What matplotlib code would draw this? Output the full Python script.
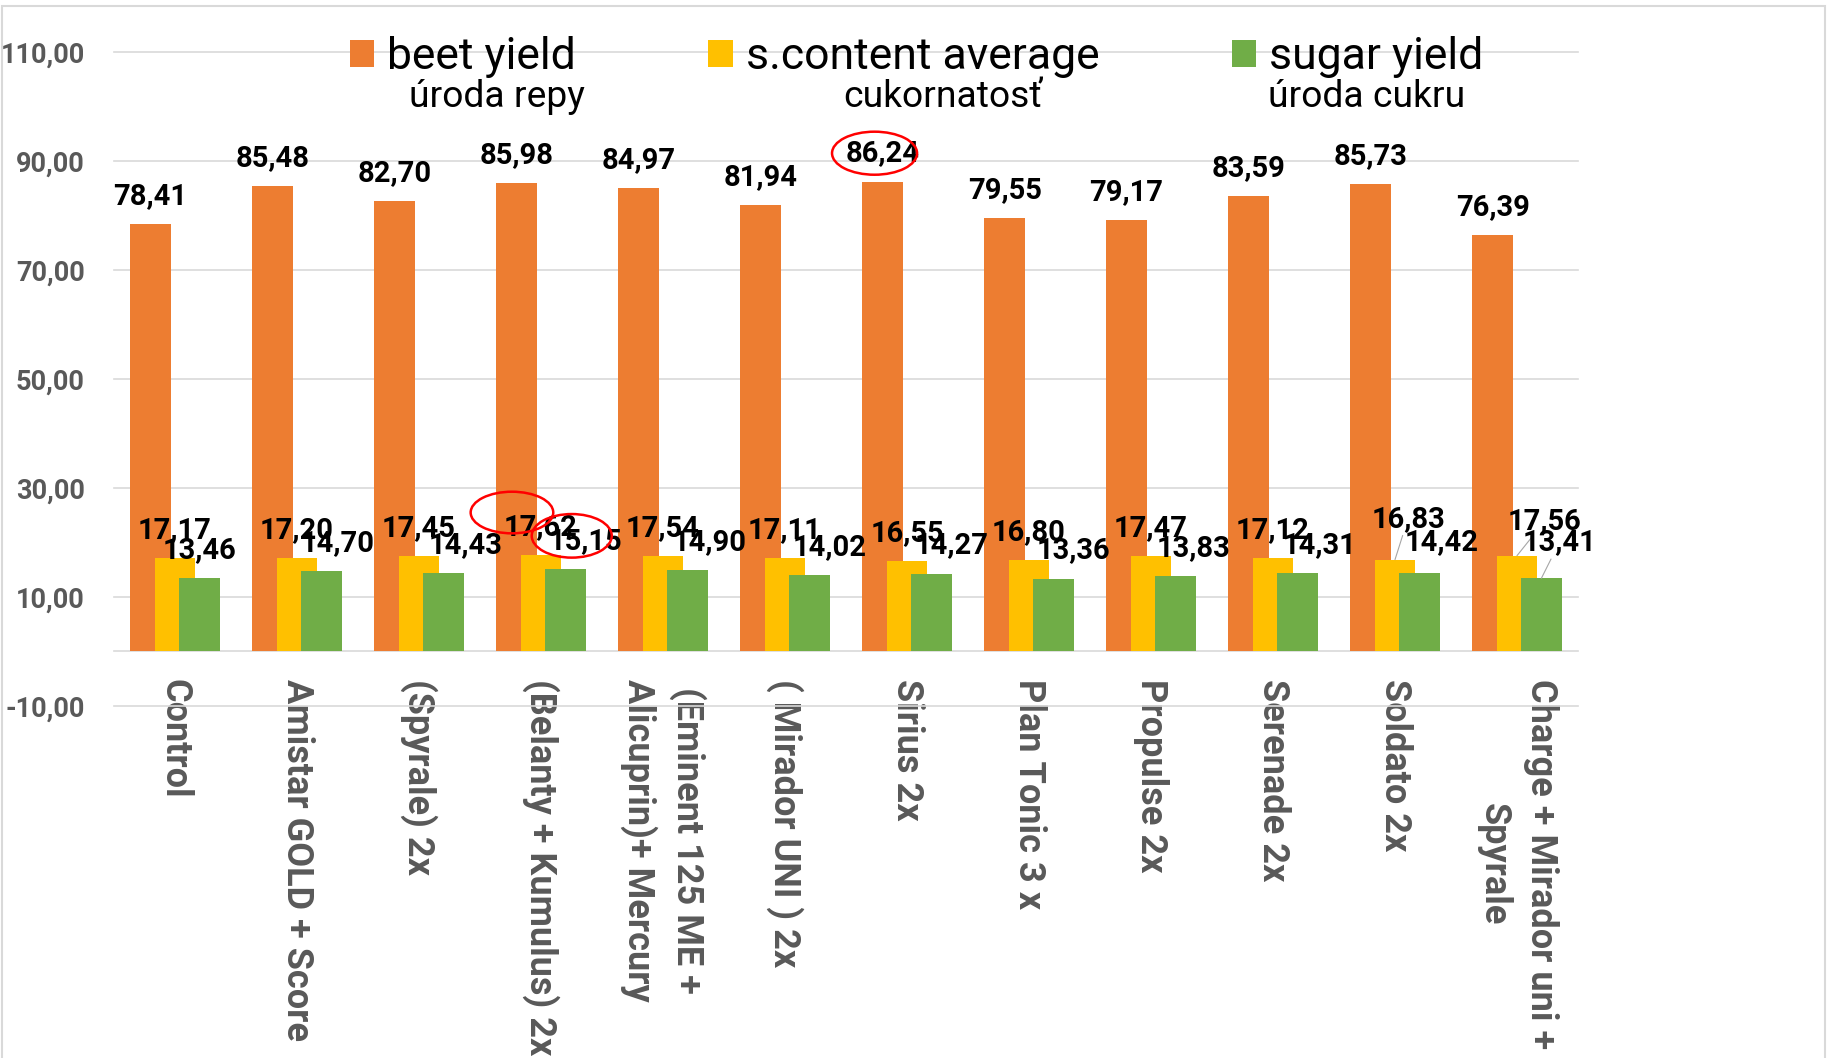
import matplotlib
matplotlib.use("Agg")
import matplotlib.pyplot as plt
from matplotlib.patches import Patch, Ellipse, Rectangle
from matplotlib import font_manager
import numpy as np

# ---------------- data ----------------
categories = ["Control", "Amistar GOLD + Score", "(Spyrale) 2x", "(Belanty + Kumulus) 2x",
              "(Eminent 125 ME +\nAlicuprin)+ Mercury", "( Mirador UNI ) 2x", "Sirius 2x",
              "Plan Tonic 3 x", "Propulse 2x", "Serenade 2x", "Soldato 2x",
              "Charge + Mirador uni +\nSpyrale"]
beet_yield = [78.41, 85.48, 82.70, 85.98, 84.97, 81.94, 86.24, 79.55, 79.17, 83.59, 85.73, 76.39]
sugar_content = [17.17, 17.20, 17.45, 17.62, 17.54, 17.11, 16.55, 16.80, 17.47, 17.12, 16.83, 17.56]
sugar_yield = [13.46, 14.70, 14.43, 15.15, 14.90, 14.02, 14.27, 13.36, 13.83, 14.31, 14.42, 13.41]
series_names = ["beet yield", "s.content average", "sugar yield"]
series_subtitles = ["úroda repy", "cukornatosť", "úroda cukru"]
y_ticks = [-10, 10, 30, 50, 70, 90, 110]

# ---------------- style ----------------
colors = ["#ED7D31", "#FFC000", "#70AD47"]
grid_c = "#D9D9D9"
tick_c = "#595959"

avail = {f.name for f in font_manager.fontManager.ttflist}
def pick(*names):
    for n in names:
        if n in avail:
            return n
    return "DejaVu Sans"
FONT = pick("Roboto", "Liberation Sans", "Open Sans", "DejaVu Sans")
plt.rcParams["font.family"] = [FONT, "DejaVu Sans"]

W, H = 1827, 1058
fig = plt.figure(figsize=(W / 100, H / 100), dpi=100)
ax = fig.add_axes([114 / W, 1 - 705.8 / H, 1464 / W, (705.8 - 52.1) / H])

x = np.arange(len(categories))
step = 0.2
bw = 0.336
series = [beet_yield, sugar_content, sugar_yield]
offsets = [-step, 0.0, step]
containers = []
for i, (vals, off, c) in enumerate(zip(series, offsets, colors)):
    b = ax.bar(x + off, vals, width=bw, color=c, zorder=2 + i, linewidth=0)
    containers.append(b)

ax.set_xlim(-0.5, len(categories) - 0.5)
ax.set_ylim(-10, 110)
ax.set_yticks(y_ticks)
ax.set_yticklabels([f"{v:.2f}".replace(".", ",") for v in y_ticks],
                   fontsize=19.5, fontweight="bold", color=tick_c)
ax.yaxis.grid(True, color=grid_c, linewidth=1.2, zorder=0)
for gl in ax.get_ygridlines():
    gl.set_clip_on(False)
ax.set_axisbelow(True)
for s in ["left", "right", "top"]:
    ax.spines[s].set_visible(False)
ax.spines["bottom"].set_position(("data", 0))
ax.spines["bottom"].set_color(grid_c)
ax.spines["bottom"].set_linewidth(1.2)
ax.spines["bottom"].set_zorder(1)
ax.tick_params(axis="y", length=0, pad=21)
ax.set_xticks(x)
ax.set_xticklabels(categories, rotation=270, fontsize=26, fontweight="bold",
                   color=tick_c, multialignment="center", linespacing=1.4)
ax.tick_params(axis="x", length=0, pad=20)

# ---------------- data labels ----------------
base_dy = 28  # pixels above the bar top to label centre
# per-series default horizontal shift (pixels)
label_dx = {0: [0] * 12, 1: [0] * 12,
            2: [0, 16, 22, 20, 22, 20, 20, 20, 18, 22, 22, 18]}
label_dy = {0: [base_dy] * 12, 1: [base_dy] * 12, 2: [base_dy] * 12}
label_dx[1][10] = 13; label_dy[1][10] = 41
label_dy[2][10] = 31
label_dx[1][11] = 28; label_dy[1][11] = 35
label_dy[2][11] = 36
leaders = {(1, 10), (1, 11), (2, 11)}

for si, (vals, off) in enumerate(zip(series, offsets)):
    for ci, v in enumerate(vals):
        kw = {}
        if (si, ci) in leaders:
            kw["arrowprops"] = dict(arrowstyle="-", color="#A6A6A6", lw=0.8,
                                    shrinkA=0, shrinkB=0)
        ax.annotate(f"{v:.2f}".replace(".", ","), xy=(ci + off, v),
                    xytext=(label_dx[si][ci], label_dy[si][ci]),
                    textcoords="offset pixels", ha="center", va="center",
                    fontsize=21, fontweight="bold", color="black",
                    zorder=10, annotation_clip=False, **kw)

# ---------------- red hand-drawn ellipses ----------------
ellipses = [(0, 6, -0.066, 5.2, 0.697, 7.9),
            (1, 3, -0.238, 7.86, 0.677, 7.64),
            (2, 3, 0.052, 6.05, 0.656, 8.0)]
for si, ci, dx, dy, ew, eh in ellipses:
    e = Ellipse((ci + offsets[si] + dx, series[si][ci] + dy), ew, eh,
                fill=False, edgecolor="#FF0000", linewidth=1.8, zorder=12,
                clip_on=False)
    ax.add_patch(e)

# ---------------- legend ----------------
handles = [Patch(facecolor=c, edgecolor="none") for c in colors]
leg = fig.legend(handles, series_names, loc="center left",
                 bbox_to_anchor=(349.6 / W, 1 - 57 / H), ncol=3, frameon=False,
                 fontsize=32, handlelength=0.56, handleheight=0.56,
                 handletextpad=0.29, columnspacing=2.97, borderpad=0,
                 borderaxespad=0)
sub_x = [497, 943, 1367]
for sx, t in zip(sub_x, series_subtitles):
    fig.text(sx / W, 1 - 107 / H, t, ha="center", va="baseline", fontsize=26.8,
             color="black")

# ---------------- chart border ----------------
fig.add_artist(Rectangle((2 / W, -0.1), (1825 - 2) / W, 1 - 6 / H + 0.1,
                         transform=fig.transFigure, fill=False,
                         edgecolor=grid_c, linewidth=1.5))

fig.savefig("out.png", dpi=100)
